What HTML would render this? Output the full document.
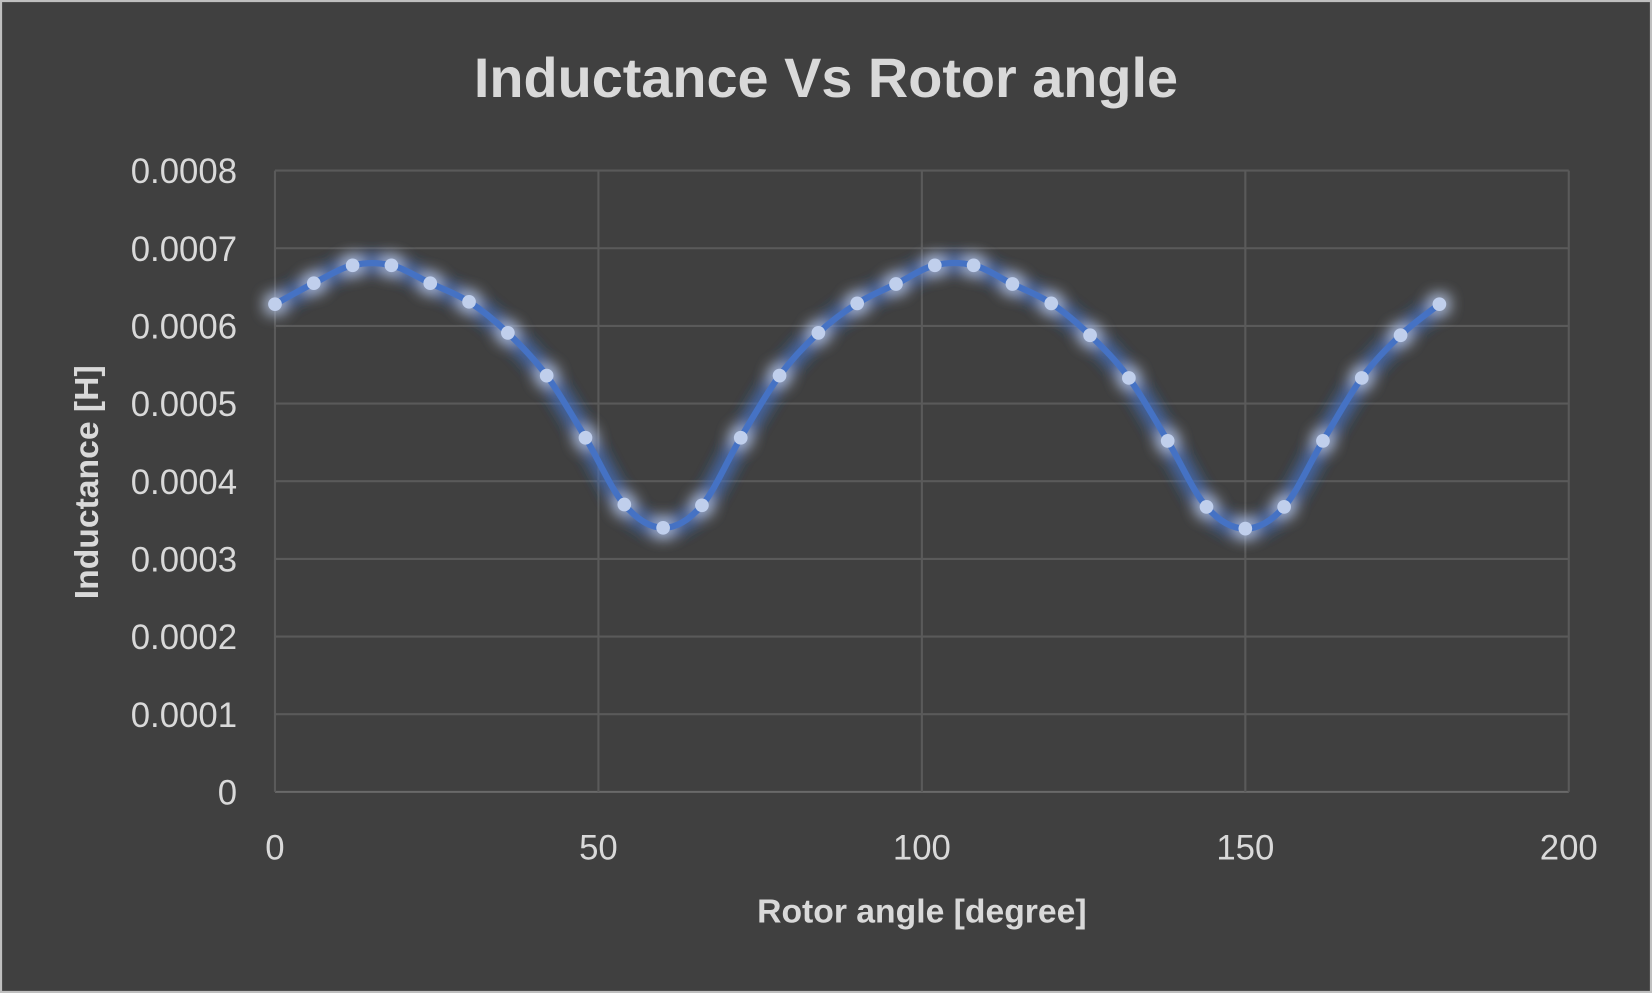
<!DOCTYPE html>
<html><head><meta charset="utf-8"><style>
html,body{margin:0;padding:0;background:#404040;}
svg{display:block;font-family:"Liberation Sans",sans-serif;}
</style></head><body>
<svg id="chart" width="1652" height="993" viewBox="0 0 1568 943" preserveAspectRatio="none" xmlns="http://www.w3.org/2000/svg">
<defs>
<filter id="glow" x="-10%" y="-25%" width="120%" height="150%">
<feGaussianBlur in="SourceGraphic" stdDeviation="8" result="b"/>
<feComponentTransfer in="b" result="b2"><feFuncA type="linear" slope="1.4"/></feComponentTransfer>
<feMerge><feMergeNode in="b2"/><feMergeNode in="b2"/><feMergeNode in="SourceGraphic"/></feMerge>
</filter>
</defs>
<rect x="1" y="1" width="1566" height="941" fill="#404040" stroke="#bfbfbf" stroke-width="2"/>
<text x="784" y="92" text-anchor="middle" font-size="53" font-weight="bold" fill="#d9d9d9">Inductance Vs Rotor angle</text>
<g id="grid"></g>
<g id="ticks"></g>
<text x="875" y="876" text-anchor="middle" font-size="32" font-weight="bold" fill="#d9d9d9">Rotor angle [degree]</text>
<text transform="translate(93,458) rotate(-90)" text-anchor="middle" font-size="32" font-weight="bold" fill="#d9d9d9">Inductance [H]</text>
<g id="series"></g>
</svg>
<script>
const angles=[0,6,12,18,24,30,36,42,48,54,60,66,72,78,84,90,96,102,108,114,120,126,132,138,144,150,156,162,168,174,180];
const inductance=[0.000628,0.000655,0.000678,0.000678,0.000655,0.000631,0.000591,0.000536,0.000456,0.000370,0.000340,0.000369,0.000456,0.000536,0.000591,0.000629,0.000654,0.000678,0.000678,0.000654,0.000629,0.000588,0.000533,0.000452,0.000367,0.000339,0.000367,0.000452,0.000533,0.000588,0.000628];
const xTicks=[0,50,100,150,200];
const yTicks=[0,0.0001,0.0002,0.0003,0.0004,0.0005,0.0006,0.0007,0.0008];
const yTickLabels=["0","0.0001","0.0002","0.0003","0.0004","0.0005","0.0006","0.0007","0.0008"];
const NS="http://www.w3.org/2000/svg";
const X0=261,X1=1489,Y0=752,Y1=162;
const xs=v=>X0+(v-0)/(200-0)*(X1-X0);
const ys=v=>Y0-(v-0)/(0.0008-0)*(Y0-Y1);
function mk(t,a,p){const e=document.createElementNS(NS,t);for(const k in a)e.setAttribute(k,a[k]);p.appendChild(e);return e;}
const grid=document.getElementById('grid'),ticks=document.getElementById('ticks'),series=document.getElementById('series');
yTicks.forEach((v,i)=>{
 const l=mk('line',{x1:X0,x2:X1,y1:ys(v),y2:ys(v),stroke:i==0?'#6a6a6a':'#5a5a5a','stroke-width':2},grid);
 
 
 const t=mk('text',{x:225,y:ys(v)+12,'text-anchor':'end','font-size':33,fill:'#d9d9d9'},ticks);
 t.textContent=yTickLabels[i];
 
 
});
xTicks.forEach(v=>{
 const l=mk('line',{x1:xs(v),x2:xs(v),y1:Y1,y2:Y0,stroke:'#5a5a5a','stroke-width':2},grid);
 
 
 const t=mk('text',{x:xs(v),y:816,'text-anchor':'middle','font-size':33,fill:'#d9d9d9'},ticks);
 t.textContent=String(v);
 
 
});
const P=angles.map((a,i)=>[xs(a),ys(inductance[i])]);
let d='M'+P[0][0]+','+P[0][1];
for(let i=0;i<P.length-1;i++){
 const p0=P[Math.max(0,i-1)],p1=P[i],p2=P[i+1],p3=P[Math.min(P.length-1,i+2)];
 const c1=[p1[0]+(p2[0]-p0[0])/6,p1[1]+(p2[1]-p0[1])/6];
 const c2=[p2[0]-(p3[0]-p1[0])/6,p2[1]-(p3[1]-p1[1])/6];
 d+=' C'+c1[0]+','+c1[1]+' '+c2[0]+','+c2[1]+' '+p2[0]+','+p2[1];
}
const g=mk('g',{filter:'url(#glow)'},series);
const path=mk('path',{d:d,fill:'none',stroke:'#4472c4','stroke-width':6},g);


P.forEach(p=>{
 const c=mk('circle',{cx:p[0],cy:p[1],r:6.5,fill:'#c0cfec'},g);
 
 
});
</script>
</body></html>
